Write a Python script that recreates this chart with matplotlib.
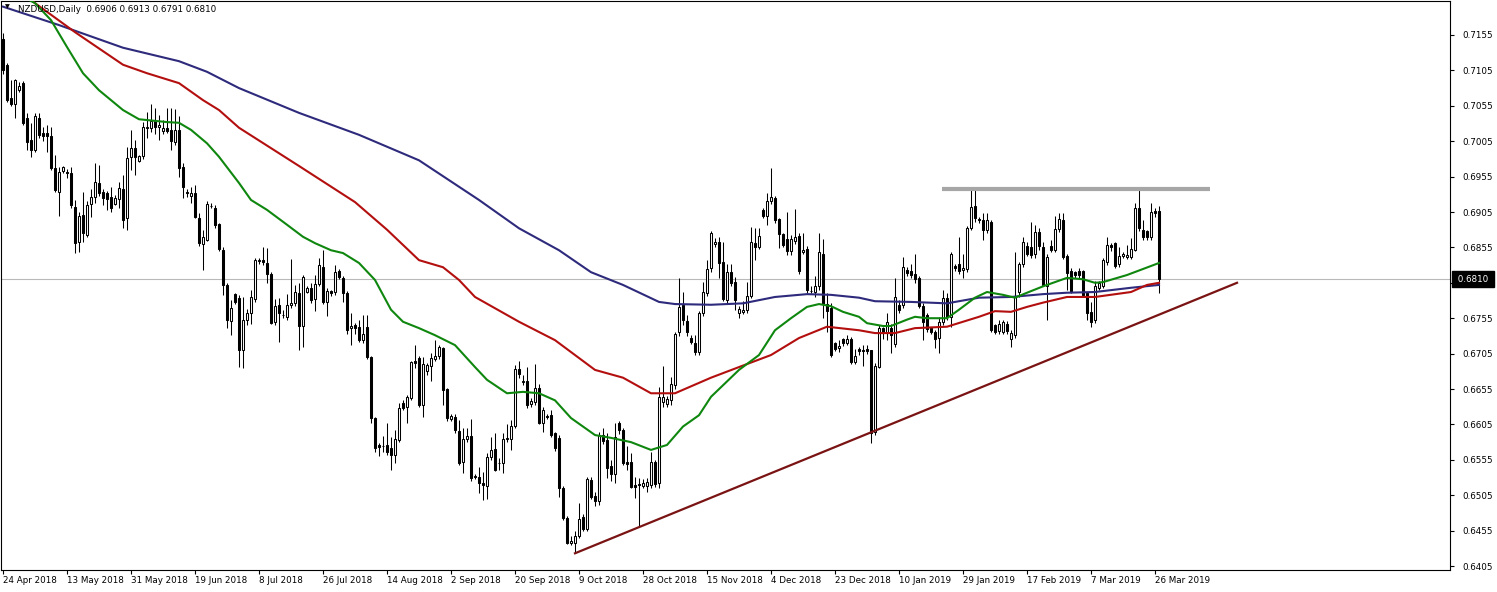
import matplotlib
matplotlib.use("Agg")
import matplotlib.pyplot as plt
import matplotlib.transforms as mtransforms
import numpy as np

# daily candles, 24 Apr 2018 .. 27 Mar 2019 (bar index = position on chart)
opens = [
    .7150, .7113, .7066, .7058, .7077, .7087, .7038, .7007, .6993, .7038,
    .7017, .7016, .7013, .6967, .6933, .6963, .6961, .6960, .6912, .6862,
    .6901, .6873, .6917, .6926, .6946, .6933, .6932, .6926, .6917, .6923,
    .6937, .6896, .6982, .6996, .6977, .6984, .7023, .7024, .7034, .7025,
    .7020, .7024, .7021, .7004, .7021, .6968, .6933, .6928, .6932, .6897,
    .6860, .6866, .6913, .6911, .6888, .6852, .6802, .6751, .6789, .6784,
    .6710, .6752, .6762, .6782, .6836, .6837, .6833, .6817, .6749, .6774,
    .6760, .6757, .6773, .6777, .6790, .6744, .6792, .6798, .6782, .6804,
    .6827, .6778, .6793, .6792, .6821, .6812, .6790, .6741, .6746, .6742,
    .6724, .6742, .6700, .6614, .6576, .6575, .6576, .6572, .6562, .6583,
    .6635, .6630, .6643, .6694, .6699, .6633, .6680, .6688, .6698, .6701,
    .6713, .6655, .6613, .6615, .6596, .6552, .6584, .6588, .6532, .6531,
    .6522, .6518, .6559, .6570, .6550, .6551, .6584, .6585, .6603, .6683,
    .6665, .6667, .6634, .6637, .6657, .6607, .6617, .6619, .6593, .6586,
    .6515, .6473, .6438, .6437, .6448, .6474, .6457, .6527, .6504, .6497,
    .6590, .6583, .6546, .6535, .6607, .6597, .6552, .6552, .6519, .6521,
    .6518, .6518, .6519, .6552, .6522, .6637, .6634, .6640, .6661, .6735,
    .6773, .6751, .6727, .6720, .6707, .6762, .6791, .6826, .6860, .6862,
    .6835, .6781, .6820, .6806, .6762, .6764, .6766, .6786, .6861, .6855,
    .6908, .6900, .6920, .6925, .6895, .6874, .6867, .6850, .6864, .6871,
    .6849, .6853, .6794, .6792, .6800, .6846, .6775, .6770, .6720, .6713,
    .6725, .6720, .6726, .6693, .6711, .6710, .6712, .6710, .6594, .6686,
    .6741, .6734, .6741, .6719, .6773, .6773, .6823, .6822, .6818, .6812,
    .6772, .6759, .6741, .6735, .6727, .6749, .6783, .6757, .6829, .6831,
    .6823, .6824, .6883, .6913, .6895, .6893, .6879, .6891, .6745, .6737,
    .6735, .6747, .6726, .6731, .6792, .6832, .6857, .6855, .6845, .6877,
    .6855, .6801, .6857, .6851, .6881, .6894, .6843, .6822, .6820, .6821,
    .6822, .6790, .6764, .6752, .6798, .6800, .6835, .6858, .6861, .6831,
    .6843, .6842, .6842, .6852, .6910, .6880, .6878, .6870, .6907, .6906,
]
highs = [
    .7158, .7115, .7091, .7093, .7088, .7090, .7045, .7030, .7045, .7045,
    .7025, .7028, .7025, .6985, .6968, .6970, .6966, .6968, .6922, .6905,
    .6933, .6920, .6937, .6974, .6972, .6937, .6935, .6940, .6929, .6948,
    .6957, .6997, .7021, .7006, .6986, .7032, .7046, .7057, .7052, .7042,
    .7035, .7052, .7052, .7050, .7040, .6974, .6937, .6940, .6943, .6904,
    .6879, .6920, .6918, .6915, .6890, .6856, .6805, .6781, .6791, .6788,
    .6785, .6768, .6795, .6840, .6840, .6855, .6854, .6820, .6782, .6784,
    .6766, .6789, .6838, .6802, .6805, .6816, .6800, .6805, .6816, .6840,
    .6851, .6798, .6795, .6830, .6825, .6814, .6793, .6762, .6748, .6752,
    .6760, .6760, .6702, .6616, .6579, .6589, .6607, .6587, .6597, .6635,
    .6640, .6647, .6695, .6717, .6702, .6700, .6692, .6706, .6724, .6717,
    .6715, .6657, .6620, .6620, .6611, .6600, .6600, .6612, .6535, .6545,
    .6538, .6565, .6587, .6593, .6557, .6593, .6606, .6611, .6689, .6695,
    .6675, .6686, .6643, .6691, .6662, .6630, .6620, .6625, .6595, .6590,
    .6518, .6475, .6447, .6455, .6494, .6479, .6531, .6531, .6510, .6595,
    .6600, .6593, .6555, .6607, .6610, .6600, .6574, .6565, .6531, .6530,
    .6528, .6530, .6566, .6555, .6658, .6688, .6645, .6672, .6736, .6812,
    .6792, .6760, .6731, .6731, .6765, .6806, .6837, .6878, .6868, .6869,
    .6862, .6831, .6831, .6813, .6772, .6780, .6806, .6884, .6882, .6882,
    .6910, .6932, .6967, .6928, .6896, .6876, .6905, .6873, .6909, .6875,
    .6875, .6857, .6800, .6815, .6876, .6867, .6790, .6777, .6722, .6724,
    .6727, .6731, .6728, .6712, .6714, .6717, .6717, .6710, .6692, .6745,
    .6743, .6762, .6747, .6812, .6781, .6841, .6828, .6831, .6845, .6815,
    .6776, .6762, .6743, .6738, .6757, .6795, .6790, .6848, .6832, .6870,
    .6845, .6885, .6939, .6939, .6898, .6903, .6903, .6894, .6747, .6752,
    .6752, .6751, .6738, .6848, .6835, .6870, .6863, .6891, .6887, .6882,
    .6862, .6846, .6865, .6900, .6903, .6903, .6846, .6826, .6822, .6826,
    .6823, .6791, .6778, .6808, .6808, .6840, .6870, .6861, .6862, .6855,
    .6848, .6858, .6868, .6918, .6936, .6893, .6880, .6918, .6911, .6913,
]
lows = [
    .7100, .7060, .7055, .7038, .7075, .7028, .6993, .6983, .6990, .7010,
    .7005, .6990, .6965, .6933, .6900, .6960, .6953, .6911, .6847, .6848,
    .6862, .6870, .6898, .6918, .6928, .6915, .6908, .6905, .6915, .6910,
    .6882, .6880, .6965, .6957, .6976, .6980, .7010, .7018, .7015, .7007,
    .7015, .7017, .6993, .7000, .6955, .6925, .6926, .6918, .6896, .6857,
    .6823, .6864, .6910, .6882, .6850, .6788, .6741, .6731, .6775, .6686,
    .6684, .6745, .6747, .6778, .6832, .6830, .6805, .6747, .6745, .6721,
    .6755, .6753, .6770, .6772, .6710, .6715, .6790, .6777, .6765, .6800,
    .6775, .6758, .6786, .6788, .6810, .6778, .6733, .6717, .6732, .6721,
    .6720, .6697, .6607, .6566, .6560, .6566, .6562, .6541, .6550, .6580,
    .6625, .6607, .6640, .6685, .6630, .6615, .6675, .6666, .6695, .6697,
    .6633, .6610, .6610, .6593, .6548, .6537, .6580, .6525, .6528, .6508,
    .6498, .6500, .6555, .6539, .6540, .6537, .6580, .6569, .6600, .6670,
    .6660, .6628, .6630, .6633, .6605, .6595, .6612, .6587, .6568, .6503,
    .6470, .6436, .6435, .6424, .6445, .6455, .6455, .6500, .6490, .6491,
    .6578, .6530, .6525, .6522, .6592, .6548, .6540, .6515, .6501, .6460,
    .6515, .6510, .6515, .6517, .6515, .6630, .6630, .6632, .6655, .6730,
    .6745, .6730, .6718, .6703, .6703, .6758, .6786, .6820, .6855, .6812,
    .6780, .6777, .6800, .6767, .6755, .6761, .6762, .6783, .6837, .6853,
    .6897, .6886, .6917, .6890, .6854, .6855, .6844, .6844, .6860, .6818,
    .6845, .6790, .6790, .6785, .6795, .6755, .6735, .6700, .6708, .6707,
    .6716, .6717, .6690, .6690, .6703, .6688, .6705, .6579, .6590, .6684,
    .6725, .6724, .6706, .6715, .6763, .6770, .6815, .6812, .6805, .6769,
    .6724, .6736, .6732, .6713, .6706, .6745, .6752, .6743, .6822, .6818,
    .6812, .6820, .6880, .6891, .6890, .6865, .6875, .6735, .6732, .6733,
    .6733, .6733, .6715, .6727, .6785, .6828, .6843, .6840, .6840, .6852,
    .6800, .6753, .6848, .6848, .6877, .6838, .6795, .6790, .6812, .6810,
    .6785, .6752, .6743, .6748, .6795, .6797, .6830, .6850, .6826, .6828,
    .6840, .6838, .6838, .6850, .6878, .6866, .6866, .6866, .6898, .6791,
]
closes = [
    .7105, .7063, .7058, .7091, .7083, .7030, .7004, .6993, .7040, .7014,
    .7013, .7012, .6967, .6936, .6962, .6968, .6960, .6915, .6861, .6899,
    .6875, .6915, .6926, .6947, .6932, .6925, .6923, .6911, .6925, .6939,
    .6893, .6981, .6995, .6982, .6984, .7025, .7025, .7033, .7025, .7028,
    .7024, .7020, .7005, .7021, .6967, .6940, .6932, .6932, .6898, .6861,
    .6869, .6916, .6914, .6887, .6853, .6802, .6752, .6769, .6778, .6710,
    .6752, .6762, .6785, .6837, .6837, .6835, .6818, .6748, .6772, .6762,
    .6759, .6774, .6777, .6792, .6744, .6813, .6798, .6781, .6803, .6830,
    .6778, .6793, .6790, .6820, .6813, .6790, .6738, .6744, .6741, .6724,
    .6732, .6700, .6614, .6572, .6573, .6574, .6566, .6562, .6584, .6628,
    .6628, .6644, .6693, .6692, .6633, .6691, .6689, .6699, .6701, .6714,
    .6653, .6614, .6617, .6597, .6551, .6585, .6588, .6530, .6531, .6522,
    .6519, .6559, .6569, .6541, .6551, .6584, .6586, .6603, .6683, .6676,
    .6667, .6632, .6638, .6657, .6607, .6625, .6616, .6590, .6572, .6515,
    .6473, .6437, .6440, .6448, .6472, .6458, .6528, .6503, .6497, .6590,
    .6582, .6543, .6535, .6587, .6597, .6551, .6549, .6517, .6516, .6520,
    .6522, .6523, .6552, .6521, .6644, .6644, .6641, .6662, .6733, .6771,
    .6752, .6735, .6722, .6707, .6762, .6792, .6824, .6876, .6863, .6833,
    .6782, .6820, .6805, .6781, .6768, .6767, .6786, .6863, .6856, .6871,
    .6900, .6920, .6926, .6893, .6874, .6858, .6850, .6867, .6869, .6821,
    .6852, .6795, .6793, .6801, .6848, .6775, .6765, .6703, .6712, .6716,
    .6720, .6726, .6693, .6701, .6708, .6709, .6709, .6593, .6688, .6741,
    .6734, .6749, .6731, .6785, .6766, .6827, .6819, .6816, .6810, .6772,
    .6749, .6740, .6736, .6725, .6749, .6783, .6757, .6846, .6826, .6822,
    .6826, .6883, .6912, .6896, .6894, .6880, .6893, .6738, .6735, .6747,
    .6749, .6737, .6734, .6785, .6832, .6863, .6846, .6844, .6877, .6857,
    .6802, .6841, .6851, .6881, .6895, .6841, .6819, .6794, .6816, .6816,
    .6788, .6762, .6750, .6801, .6805, .6837, .6858, .6855, .6829, .6843,
    .6845, .6844, .6853, .6911, .6882, .6870, .6870, .6905, .6904, .6810,
]

# moving averages (bar index, price)
ma_green_bars = [0, 8, 12, 16, 20, 24, 30, 34, 41, 44, 47, 51, 54, 59, 62, 66, 71, 75,
                 78, 82, 85, 89, 93, 97, 100, 104, 108, 113, 118, 121, 126, 130, 134,
                 138, 142, 148, 152, 157, 162, 166, 170, 174, 177, 184, 189, 193, 197,
                 201, 204, 207, 210, 214, 216, 220, 222, 226, 228, 231, 236, 239, 243,
                 246, 250, 253, 256, 260, 266, 270, 273, 275, 281, 289]
ma_green_vals = [.7224, .7200, .7176, .7138, .7101, .7077, .7049, .7036, .7032, .7031,
                 .7021, .7002, .6983, .6946, .6922, .6908, .6887, .6870, .6861, .6851,
                 .6847, .6833, .6809, .6767, .6750, .6741, .6731, .6717, .6686, .6668,
                 .6649, .6651, .6649, .6639, .6614, .6590, .6586, .6580, .6569, .6576,
                 .6602, .6618, .6644, .6682, .6703, .6738, .6755, .6771, .6775, .6772,
                 .6764, .6757, .6748, .6744, .6744, .6753, .6757, .6755, .6755, .6767,
                 .6784, .6792, .6788, .6784, .6791, .6800, .6812, .6810, .6805, .6806,
                 .6816, .6833]
ma_red_bars = [0, 8, 18, 30, 36, 44, 50, 54, 59, 74, 88, 96, 104, 110, 114, 118, 129,
               138, 148, 155, 162, 168, 177, 184, 192, 199, 206, 214, 218, 223, 228,
               236, 244, 248, 252, 256, 260, 266, 273, 282, 286, 289]
ma_red_vals = [.7238, .7200, .7159, .7113, .7101, .7087, .7063, .7049, .7024, .6970,
               .6919, .6880, .6837, .6827, .6809, .6785, .6750, .6724, .6682, .6671,
               .6649, .6649, .6671, .6686, .6703, .6727, .6743, .6738, .6734, .6734,
               .6741, .6743, .6757, .6765, .6764, .6771, .6777, .6785, .6785, .6792,
               .6802, .6805]
ma_navy_bars = [0, 14, 30, 44, 51, 59, 74, 89, 104, 119, 129, 139, 147, 155, 164, 168,
                177, 185, 193, 201, 207, 214, 218, 227, 236, 244, 252, 260, 266, 273,
                282, 289]
ma_navy_vals = [.7195, .7169, .7137, .7118, .7103, .7080, .7045, .7014, .6978, .6922,
                .6882, .6851, .6820, .6802, .6778, .6775, .6774, .6776, .6785, .6789,
                .6788, .6784, .6779, .6778, .6776, .6784, .6785, .6789, .6791, .6792,
                .6798, .6802]

# drawn objects
trend_bars = [143, 308.5]
trend_vals = [.6423, .6805]
resist_bars = [234.75, 301.75]
resist_val = .6937
last_price = .6810

date_labels = ["24 Apr 2018", "13 May 2018", "31 May 2018", "19 Jun 2018", "8 Jul 2018",
               "26 Jul 2018", "14 Aug 2018", "2 Sep 2018", "20 Sep 2018", "9 Oct 2018",
               "28 Oct 2018", "15 Nov 2018", "4 Dec 2018", "23 Dec 2018", "10 Jan 2019",
               "29 Jan 2019", "17 Feb 2019", "7 Mar 2019", "26 Mar 2019"]
date_bars = [16 * k for k in range(len(date_labels))]
price_ticks = [round(0.6405 + 0.005 * k, 4) for k in range(16)]

o = np.array(opens)
h = np.array(highs)
l = np.array(lows)
c = np.array(closes)
x = np.arange(len(c))

FS = 6.3
fig = plt.figure(figsize=(14.97, 5.92), dpi=100)
ax = fig.add_axes([1 / 1497, 22 / 592, 1449 / 1497, 569 / 592])
ax.set_xlim(-0.5, 361.75)
ax.set_ylim(0.63994, 0.72030)

ax.axhline(last_price, color="#b9b9b9", lw=0.8, zorder=1)

ax.vlines(x, l, h, color="black", lw=0.75, zorder=2)
up = c >= o
lo = np.minimum(o, c)
ht = np.maximum(np.abs(c - o), 0.00002)
ax.bar(x[up], ht[up], bottom=lo[up], width=0.55, color="white", edgecolor="black", lw=0.75, zorder=3)
ax.bar(x[~up], ht[~up], bottom=lo[~up], width=0.55, color="black", edgecolor="black", lw=0.75, zorder=3)

ax.plot(ma_navy_bars, ma_navy_vals, color="#2e2a7c", lw=1.5, zorder=4)
ax.plot(ma_red_bars, ma_red_vals, color="#b30f0f", lw=1.5, zorder=4)
ax.plot(ma_green_bars, ma_green_vals, color="#0f870f", lw=1.5, zorder=4)

ax.plot(trend_bars, trend_vals, color="#7a1313", lw=1.6, zorder=5)
ax.plot(resist_bars, [resist_val, resist_val], color="#a6a6a6", lw=3, zorder=5,
        solid_capstyle="butt")

ax.yaxis.tick_right()
ax.set_yticks(price_ticks)
ax.set_yticklabels(["" if abs(p - 0.6805) < 1e-6 else f"{p:.4f}" for p in price_ticks])
ax.set_xticks(date_bars)
ax.set_xticklabels(date_labels, ha="left")
ax.tick_params(axis="y", length=3, width=0.8, pad=6, labelsize=FS, direction="out")
ax.tick_params(axis="x", length=3, width=0.8, pad=1.5, labelsize=FS, direction="out")
for s in ax.spines.values():
    s.set_linewidth(0.8)

trans = mtransforms.blended_transform_factory(ax.transAxes, ax.transData)
ax.text(1.0035, last_price, " 0.6810 ", transform=trans, ha="left", va="center",
        fontsize=FS, color="white", clip_on=False, zorder=10,
        bbox=dict(facecolor="black", edgecolor="black", pad=2.4))

fig.text(5 / 1497, 1 - 7 / 592, "\u25bc", fontsize=4.5, va="center", ha="left", color="black")
fig.text(18 / 1497, 1 - 10 / 592, "NZDUSD,Daily  0.6906 0.6913 0.6791 0.6810",
         fontsize=FS, va="center", ha="left", color="black", zorder=10)

fig.savefig("out.png", dpi=100, facecolor="white")
